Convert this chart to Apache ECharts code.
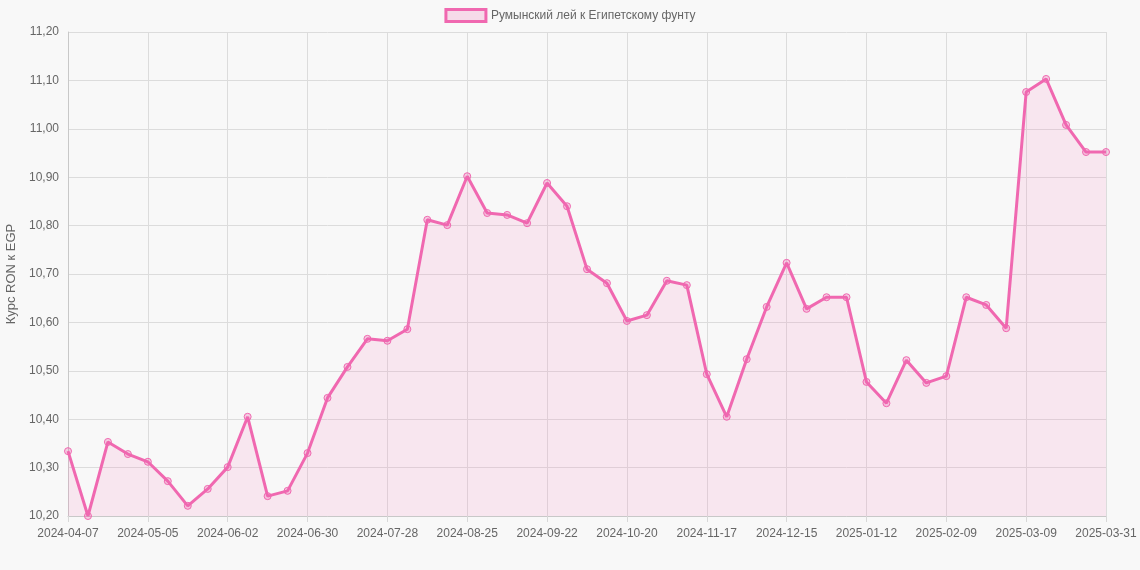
<!DOCTYPE html>
<html>
<head>
<meta charset="utf-8">
<script src="https://cdn.jsdelivr.net/npm/echarts@6/dist/echarts.min.js"></script>
<style>
html,body{margin:0;padding:0;background:#f8f8f8;}
#chart{width:1140px;height:570px;}
</style>
</head>
<body>
<div id="chart"></div>
<script>
const categories = [
  "2024-04-07","2024-04-14","2024-04-21","2024-04-28","2024-05-05","2024-05-12","2024-05-19","2024-05-26",
  "2024-06-02","2024-06-09","2024-06-16","2024-06-23","2024-06-30","2024-07-07","2024-07-14","2024-07-21",
  "2024-07-28","2024-08-04","2024-08-11","2024-08-18","2024-08-25","2024-09-01","2024-09-08","2024-09-15",
  "2024-09-22","2024-09-29","2024-10-06","2024-10-13","2024-10-20","2024-10-27","2024-11-03","2024-11-10",
  "2024-11-17","2024-11-24","2024-12-01","2024-12-08","2024-12-15","2024-12-22","2024-12-29","2025-01-05",
  "2025-01-12","2025-01-19","2025-01-26","2025-02-02","2025-02-09","2025-02-16","2025-02-23","2025-03-02",
  "2025-03-09","2025-03-16","2025-03-23","2025-03-30","2025-03-31"
];
const rates = [
  10.334,10.200,10.353,10.328,10.312,10.272,10.221,10.256,
  10.301,10.405,10.241,10.252,10.330,10.444,10.508,10.566,
  10.562,10.586,10.812,10.801,10.902,10.826,10.822,10.805,
  10.888,10.840,10.710,10.681,10.603,10.615,10.686,10.677,
  10.493,10.405,10.524,10.632,10.723,10.628,10.652,10.652,
  10.477,10.433,10.522,10.475,10.489,10.652,10.636,10.588,
  11.076,11.103,11.008,10.952,10.952
];
const seriesName = "Румынский лей к Египетскому фунту";
const yAxisTitle = "Курс RON к EGP";

const lineColor = "rgb(240,104,176)";
const fillColor = "rgba(245,120,185,0.2)";
const textColor = "#666";
const fontFamily = "'Liberation Sans', Arial, Helvetica, sans-serif";
const lastIdx = categories.length - 1;
const showIdx = (i) => i % 4 === 0 || i === lastIdx;

const chart = echarts.init(document.getElementById('chart'), null, {renderer: 'canvas'});
chart.setOption({
  backgroundColor: '#f8f8f8',
  textStyle: {fontFamily: fontFamily},
  animation: false,
  legend: {
    top: 3,
    left: 'center',
    itemWidth: 40,
    itemHeight: 12,
    itemGap: 10,
    data: [{name: seriesName, icon: 'rect',
      itemStyle: {color: 'rgba(240,104,176,0.2)', borderColor: lineColor, borderWidth: 3}}],
    textStyle: {color: textColor, fontSize: 12, fontFamily: fontFamily}
  },
  grid: {left: 68, right: 34, top: 32, bottom: 54, containLabel: false, outerBoundsMode: 'none'},
  xAxis: {
    type: 'category',
    data: categories,
    boundaryGap: false,
    axisLine: {show: true, lineStyle: {color: '#c8c8c8', width: 1}},
    axisTick: {show: true, interval: (i) => showIdx(i), length: 6, lineStyle: {color: '#d8d8d8'}},
    axisLabel: {interval: (i) => showIdx(i), color: textColor, fontSize: 12, margin: 12, fontFamily: fontFamily},
    splitLine: {show: true, interval: (i) => showIdx(i), lineStyle: {color: '#dcdcdc', width: 1}}
  },
  yAxis: {
    type: 'value',
    min: 10.2,
    max: 11.2,
    interval: 0.1,
    name: yAxisTitle,
    nameLocation: 'middle',
    nameRotate: 90,
    nameGap: 48,
    nameTextStyle: {color: textColor, fontSize: 13, fontFamily: fontFamily},
    axisLine: {show: true, lineStyle: {color: '#c8c8c8', width: 1}},
    axisTick: {show: false},
    axisLabel: {color: textColor, fontSize: 12, margin: 9, fontFamily: fontFamily,
      formatter: (v) => v.toFixed(2).replace('.', ',')},
    splitLine: {show: true, lineStyle: {color: '#dcdcdc', width: 1}}
  },
  series: [{
    name: seriesName,
    type: 'line',
    data: rates,
    symbol: 'circle',
    symbolSize: 7,
    showAllSymbol: true,
    lineStyle: {color: lineColor, width: 3},
    itemStyle: {color: 'rgba(240,104,176,0.3)', borderColor: lineColor, borderWidth: 1},
    areaStyle: {color: fillColor, origin: 'start'},
    z: 3
  }]
});
</script>
</body>
</html>
